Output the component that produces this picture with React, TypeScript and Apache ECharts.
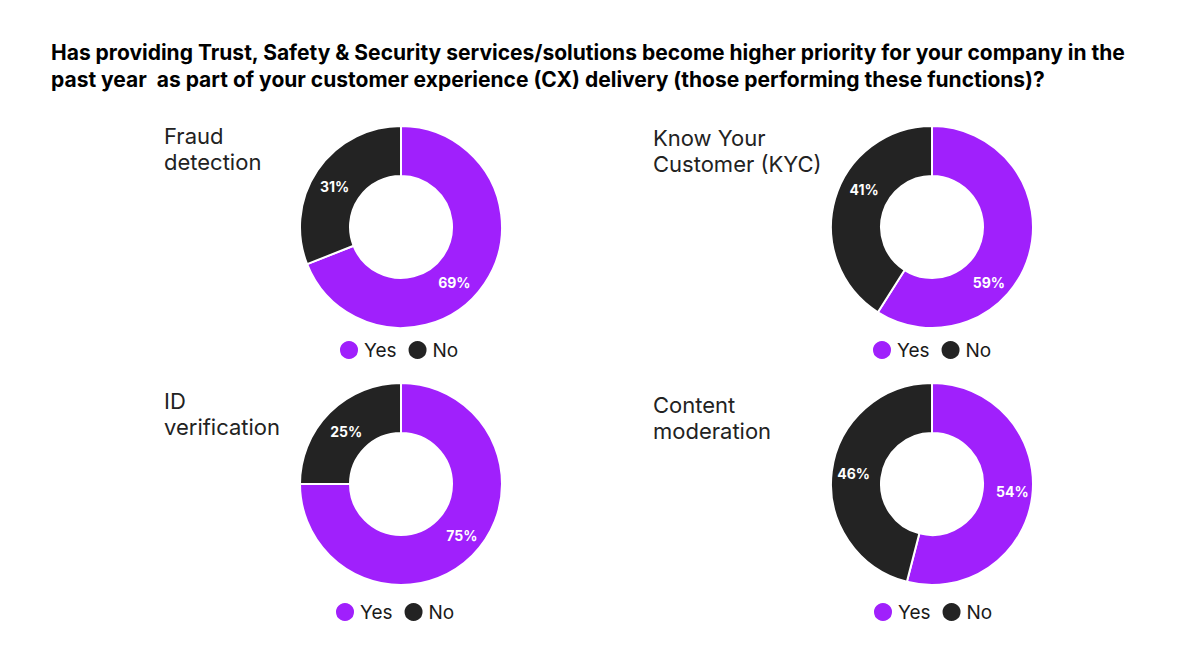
import { useEffect, useRef } from 'react';
import * as echarts from 'echarts';

const titleText =
  'Has providing Trust, Safety & Security services/solutions become higher priority for your company in the\npast year  as part of your customer experience (CX) delivery (those performing these functions)?';

const categories = ['Fraud\ndetection', 'Know Your\nCustomer (KYC)', 'ID\nverification', 'Content\nmoderation'];
const answers = ['Yes', 'No'];
const yesValues = [69, 59, 75, 54];
const noValues = [31, 41, 25, 46];

const PURPLE = '#A020FC';
const DARK = '#232323';
const FONT = 'Inter, "Liberation Sans", sans-serif';

// layout per panel: pie center, label position, legend position
const panels = [
  { cx: 401, cy: 227, labelX: 164, labelY: 123, legendX: 338, legendY: 339 },
  { cx: 932, cy: 227, labelX: 653, labelY: 125, legendX: 871, legendY: 339 },
  { cx: 401, cy: 484, labelX: 164, labelY: 388, legendX: 334, legendY: 601 },
  { cx: 932, cy: 484, labelX: 653, labelY: 392, legendX: 872, legendY: 601 },
];

// nudges for the percentage labels, [yes, no] per panel
const labelShift = [
  [[-12, 11], [-1, 4]],
  [[-19, 33], [8, -15]],
  [[5, -4], [1, 3]],
  [[2, -2], [0, -1]],
];

export default function App() {
  const chartRef = useRef<HTMLDivElement>(null);

  useEffect(() => {
    if (!chartRef.current) return;
    const chart = echarts.init(chartRef.current, null, { renderer: 'svg' });

    const titles: any[] = [
      {
        text: titleText,
        left: 51,
        top: 39,
        padding: 0,
        textStyle: {
          fontFamily: FONT,
          fontSize: 21,
          fontWeight: 'bold',
          lineHeight: 27,
          color: '#000000',
        },
      },
    ];
    categories.forEach((c, i) => {
      titles.push({
        text: c,
        left: panels[i].labelX,
        top: panels[i].labelY,
        padding: 0,
        textStyle: {
          fontFamily: FONT,
          fontSize: 22,
          fontWeight: 'normal',
          lineHeight: 26,
          color: '#222222',
        },
      });
    });

    const legends = panels.map((p) => ({
      data: answers,
      left: p.legendX,
      top: p.legendY,
      padding: 0,
      icon: 'circle',
      itemWidth: 20,
      itemHeight: 20,
      itemGap: 10,
      itemTextGap: 6,
      selectedMode: false,
      textStyle: { fontFamily: FONT, fontSize: 19, color: '#1a1a1a' },
    }));

    const series = panels.map((p, i) => ({
      type: 'pie',
      name: categories[i],
      center: [p.cx, p.cy],
      radius: [51, 101],
      startAngle: 90,
      clockwise: true,
      avoidLabelOverlap: false,
      silent: true,
      itemStyle: { borderColor: '#ffffff', borderWidth: 2 },
      label: {
        show: true,
        position: 'inside',
        formatter: '{c}%',
        color: '#ffffff',
        fontFamily: FONT,
        fontSize: 14,
        fontWeight: 'bold',
      },
      labelLine: { show: false },
      labelLayout: (params: any) => {
        const s = labelShift[i][params.dataIndex];
        return { dx: s[0], dy: s[1] };
      },
      data: [
        { name: answers[0], value: yesValues[i], itemStyle: { color: PURPLE } },
        { name: answers[1], value: noValues[i], itemStyle: { color: DARK } },
      ],
    }));

    chart.setOption({
      animation: false,
      backgroundColor: '#ffffff',
      title: titles,
      legend: legends,
      series,
    });

    return () => {
      chart.dispose();
    };
  }, []);

  return (
    <div
      ref={chartRef}
      style={{ position: 'fixed', left: 0, top: 0, width: '1200px', height: '658px' }}
    />
  );
}
